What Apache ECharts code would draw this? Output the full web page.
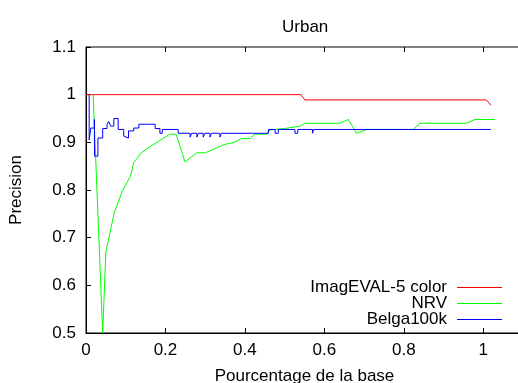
<!DOCTYPE html>
<html>
<head>
<meta charset="utf-8">
<script src="https://cdn.jsdelivr.net/npm/echarts@6/dist/echarts.min.js"></script>
<style>
html, body { margin: 0; padding: 0; background: #fff; }
#graph { width: 518px; height: 383px; }
</style>
</head>
<body>
<div id="graph"></div>
<script>
// valeurs
var imagevalX = [0, 0.541, 0.551, 1.008, 1.019];
var imagevalY = [1.0, 1.0, 0.989, 0.989, 0.978];

var nrvX = [0.018, 0.042, 0.05, 0.071, 0.091, 0.112, 0.12, 0.139, 0.165, 0.211, 0.227, 0.249, 0.279, 0.30, 0.325, 0.35, 0.37, 0.392, 0.413, 0.425, 0.455, 0.463, 0.50, 0.539, 0.551, 0.639, 0.66, 0.681, 0.707, 0.824, 0.84, 0.958, 0.979, 1.029];
var nrvY = [1.0, 0.5, 0.67, 0.752, 0.797, 0.829, 0.857, 0.878, 0.893, 0.917, 0.917, 0.859, 0.878, 0.878, 0.887, 0.896, 0.899, 0.908, 0.908, 0.917, 0.917, 0.926, 0.929, 0.934, 0.94, 0.94, 0.948, 0.919, 0.927, 0.927, 0.94, 0.94, 0.948, 0.948];

var belgaX = [0.008, 0.008, 0.012, 0.021, 0.0215, 0.030, 0.042, 0.053, 0.057, 0.062, 0.070, 0.081, 0.095, 0.099, 0.107, 0.120, 0.133, 0.174, 0.186, 0.192, 0.232, 0.262, 0.266, 0.279, 0.283, 0.295, 0.299, 0.312, 0.316, 0.337, 0.341, 0.459, 0.476, 0.484, 0.526, 0.533, 0.570, 0.573, 1.019];
var belgaY = [1.0, 0.905, 0.93, 0.948, 0.871, 0.909, 0.929, 0.937, 0.944, 0.934, 0.950, 0.927, 0.913, 0.909, 0.924, 0.930, 0.938, 0.929, 0.919, 0.927, 0.919, 0.911, 0.919, 0.911, 0.919, 0.911, 0.919, 0.911, 0.919, 0.911, 0.919, 0.927, 0.919, 0.927, 0.919, 0.927, 0.919, 0.927, 0.927];

var seriesNames = ['ImagEVAL-5 color', 'NRV', 'Belga100k'];
var seriesColors = ['#ff0000', '#00ff00', '#0000ff'];
var xTicks = { min: 0, max: 1.1, interval: 0.2 };
var yTicks = { min: 0.5, max: 1.1, interval: 0.1 };

function pairs(xs, ys) {
    var out = [];
    for (var i = 0; i < xs.length; i++) out.push([xs[i], ys[i]]);
    return out;
}

var font = 'Liberation Sans';
var txt = { fontFamily: font, fontSize: 17, color: '#000' };

// une légende par série pour aligner le texte à droite comme gnuplot
function legendFor(i, top) {
    return {
        data: [{ name: seriesNames[i], icon: 'rect', itemStyle: { color: seriesColors[i] } }],
        orient: 'vertical',
        align: 'right',
        right: 16,
        top: top,
        padding: 0,
        itemWidth: 45,
        itemHeight: 1,
        selectedMode: false,
        textStyle: { fontFamily: font, fontSize: 17, lineHeight: 16, color: '#000', padding: [0, 5, 0, 0] }
    };
}

var dom = document.getElementById('graph');
var myChart = echarts.init(dom);
var option = {
    animation: false,
    backgroundColor: '#fff',
    title: {
        text: 'Urban',
        left: 282,
        top: 19,
        padding: 0,
        textStyle: { fontFamily: font, fontSize: 17, color: '#000', fontWeight: 'normal' }
    },
    legend: [legendFor(0, 279), legendFor(1, 295), legendFor(2, 311)],
    grid: {
        left: 86, top: 47, right: -5, bottom: 50,
        outerBoundsMode: 'none',
        containLabel: false,
        show: true, borderColor: '#000', borderWidth: 1, backgroundColor: 'transparent'
    },
    xAxis: [{
        type: 'value',
        min: xTicks.min, max: xTicks.max, interval: xTicks.interval,
        name: 'Pourcentage de la base',
        nameLocation: 'middle',
        nameGap: 35,
        nameTextStyle: txt,
        axisLine: { onZero: false, lineStyle: { color: '#000', width: 1 } },
        axisTick: { inside: true, length: 5, lineStyle: { color: '#000' } },
        axisLabel: { margin: 9, showMaxLabel: false, fontFamily: font, fontSize: 17, color: '#000' },
        splitLine: { show: false }
    }, {
        type: 'value',
        position: 'top',
        min: xTicks.min, max: xTicks.max, interval: xTicks.interval,
        axisLine: { show: false },
        axisTick: { inside: true, length: 5, lineStyle: { color: '#000' } },
        axisLabel: { show: false },
        splitLine: { show: false }
    }],
    yAxis: {
        type: 'value',
        min: yTicks.min, max: yTicks.max, interval: yTicks.interval,
        name: 'Precision',
        nameLocation: 'middle',
        nameGap: 61,
        nameTextStyle: txt,
        axisLine: { show: true, onZero: false, lineStyle: { color: '#000', width: 1 } },
        axisTick: { show: true, inside: true, length: 5, lineStyle: { color: '#000' } },
        axisLabel: { margin: 10, fontFamily: font, fontSize: 17, color: '#000' },
        splitLine: { show: false }
    },
    series: [{
        name: seriesNames[0],
        type: 'line',
        symbol: 'none',
        data: pairs(imagevalX, imagevalY),
        lineStyle: { color: seriesColors[0], width: 1 },
        itemStyle: { color: seriesColors[0] }
    }, {
        name: seriesNames[1],
        type: 'line',
        symbol: 'none',
        data: pairs(nrvX, nrvY),
        lineStyle: { color: seriesColors[1], width: 1 },
        itemStyle: { color: seriesColors[1] }
    }, {
        name: seriesNames[2],
        type: 'line',
        symbol: 'none',
        step: 'end',
        data: pairs(belgaX, belgaY),
        lineStyle: { color: seriesColors[2], width: 1 },
        itemStyle: { color: seriesColors[2] }
    }]
};
myChart.setOption(option, true);
</script>
</body>
</html>
